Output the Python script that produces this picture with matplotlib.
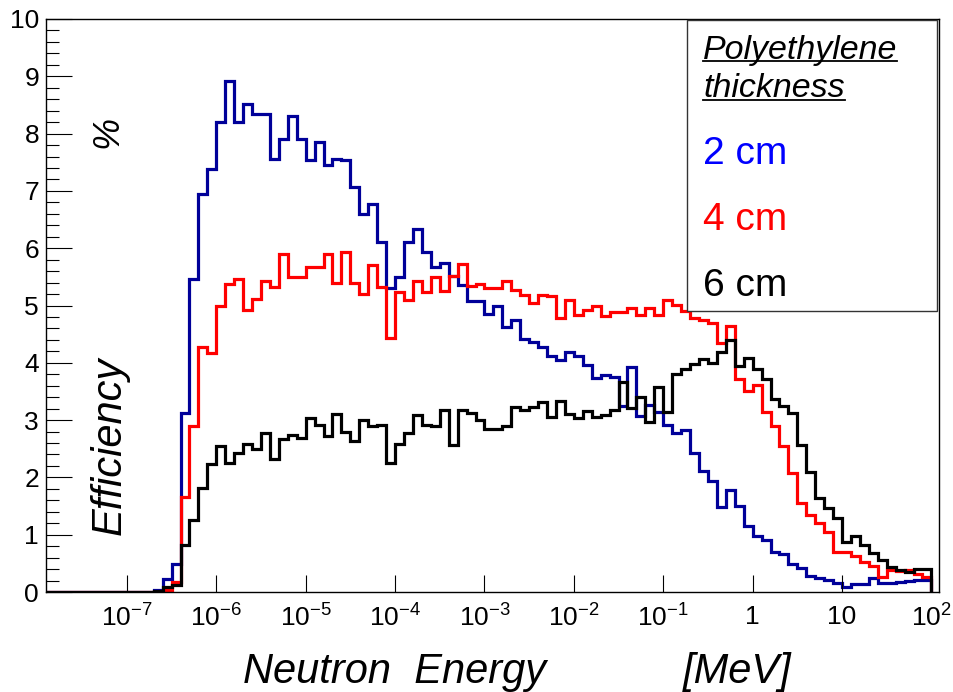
import numpy as np
import matplotlib
matplotlib.use('Agg')
import matplotlib.pyplot as plt
from matplotlib import font_manager
from matplotlib.patches import Rectangle
from matplotlib.lines import Line2D
from matplotlib.ticker import FixedLocator, FixedFormatter, MultipleLocator

# Bins: 10 per decade from 1e-8 to 1e2 MeV
log_lo, log_hi, n_bins = -8, 2, 100

# Efficiency (%) per bin
eff_2cm = [0] * 13 + [
    0.03, 0.22, 0.48, 3.13, 5.47, 6.94, 7.38,
    8.20, 8.91, 8.20, 8.51, 8.34, 8.34, 7.56, 7.90, 8.30, 7.90,
    7.54, 7.85, 7.45, 7.56, 7.54, 7.07, 6.59, 6.77, 6.10, 5.30,
    5.50, 6.11, 6.34, 5.94, 5.67, 5.74, 5.52, 5.35, 5.08, 5.08,
    4.86, 4.99, 4.63, 4.75, 4.42, 4.36, 4.28, 4.11, 4.05, 4.19,
    4.11, 3.97, 3.73, 3.78, 3.75, 3.24, 3.93, 3.08, 3.26, 3.15,
    2.91, 2.77, 2.82, 2.43, 2.11, 1.94, 1.49, 1.78, 1.50, 1.16,
    0.97, 0.91, 0.70, 0.66, 0.48, 0.42, 0.28, 0.25, 0.21, 0.15,
    0.09, 0.14, 0.14, 0.24, 0.15, 0.15, 0.17, 0.20, 0.21, 0.21]

eff_4cm = [0] * 14 + [
    0.03, 0.18, 1.66, 2.90, 4.28, 4.17,
    5.00, 5.38, 5.46, 4.92, 5.12, 5.42, 5.33, 5.90, 5.50, 5.50,
    5.67, 5.67, 5.90, 5.40, 5.94, 5.40, 5.20, 5.71, 5.32, 4.43,
    5.24, 5.10, 5.43, 5.24, 5.50, 5.25, 5.51, 5.72, 5.34, 5.38,
    5.30, 5.30, 5.42, 5.27, 5.18, 5.04, 5.18, 5.16, 4.78, 5.09,
    4.83, 4.92, 4.99, 4.82, 4.89, 4.89, 4.96, 4.83, 4.96, 4.83,
    5.09, 5.01, 4.91, 4.78, 4.74, 4.70, 4.34, 4.64, 3.71, 3.50,
    3.61, 3.15, 2.90, 2.54, 2.08, 1.55, 1.34, 1.20, 1.05, 0.70,
    0.70, 0.62, 0.53, 0.45, 0.27, 0.38, 0.36, 0.38, 0.32, 0.27]

eff_6cm = [0] * 13 + [
    0.02, 0.08, 0.12, 0.82, 1.25, 1.81, 2.23,
    2.54, 2.25, 2.43, 2.58, 2.50, 2.78, 2.32, 2.67, 2.74, 2.68,
    3.04, 2.91, 2.72, 3.10, 2.80, 2.64, 3.00, 2.89, 2.92, 2.26,
    2.58, 2.78, 3.09, 2.91, 2.89, 3.18, 2.57, 3.18, 3.12, 3.01,
    2.84, 2.84, 2.90, 3.22, 3.18, 3.22, 3.31, 3.06, 3.33, 3.10,
    3.03, 3.16, 3.05, 3.09, 3.18, 3.67, 3.21, 3.41, 2.97, 3.58,
    3.15, 3.80, 3.90, 3.98, 4.06, 3.99, 4.19, 4.40, 3.95, 4.09,
    3.89, 3.71, 3.36, 3.25, 3.13, 2.57, 2.10, 1.64, 1.46, 1.29,
    0.88, 0.97, 0.82, 0.68, 0.56, 0.44, 0.38, 0.35, 0.40, 0.41]

series_labels = ['2 cm', '4 cm', '6 cm']
line_colors = ['#000099', '#ff0000', '#000000']
text_colors = ['#0000ff', '#ff0000', '#000000']

x_tick_vals = [1e-7, 1e-6, 1e-5, 1e-4, 1e-3, 1e-2, 1e-1, 1, 10, 100]
x_tick_text = [r'$10^{-7}$', r'$10^{-6}$', r'$10^{-5}$', r'$10^{-4}$', r'$10^{-3}$',
               r'$10^{-2}$', r'$10^{-1}$', '1', '10', r'$10^{2}$']

# fonts
names = {f.name for f in font_manager.fontManager.ttflist}
sans = 'Liberation Sans' if 'Liberation Sans' in names else 'DejaVu Sans'
plt.rcParams['font.family'] = sans
plt.rcParams['mathtext.fontset'] = 'custom'
plt.rcParams['mathtext.rm'] = sans
plt.rcParams['mathtext.it'] = sans + ':italic'

W, H = 954, 692
fig = plt.figure(figsize=(W / 100, H / 100), dpi=100)
ax = fig.add_axes([46 / W, 100 / H, (939 - 46) / W, (592 - 19) / H])

edges = np.logspace(log_lo, log_hi, n_bins + 1)
for vals, col in zip([eff_2cm, eff_4cm, eff_6cm], line_colors):
    ax.stairs(vals, edges, color=col, lw=2.3, baseline=0)

ax.set_xscale('log')
ax.set_xlim(10 ** -7.905, 10 ** 2.085)
ax.set_ylim(0, 10)

ax.xaxis.set_major_locator(FixedLocator(x_tick_vals))
ax.xaxis.set_major_formatter(FixedFormatter(x_tick_text))
ax.yaxis.set_major_locator(MultipleLocator(1))
ax.yaxis.set_minor_locator(MultipleLocator(0.2))

ax.tick_params(which='both', direction='in', top=False, right=False, colors='black')
ax.tick_params(axis='x', which='major', length=12.3, width=0.8, labelsize=19, pad=9)
ax.tick_params(axis='x', which='minor', length=6.2, width=0.8)
ax.tick_params(axis='y', which='major', length=19, width=0.8, labelsize=19, pad=5)
ax.tick_params(axis='y', which='minor', length=9.5, width=0.8)
for s in ax.spines.values():
    s.set_linewidth(1.0)


def fx(px):
    return px / W


def fy(py):
    return 1 - py / H


# axis titles (ROOT style, italic)
fig.text(fx(243), fy(683), 'Neutron  Energy', fontsize=30, style='italic',
         ha='left', va='baseline')
fig.text(fx(683), fy(683), '[MeV]', fontsize=30, style='italic',
         ha='left', va='baseline')
fig.text(fx(110), fy(446), 'Efficiency', fontsize=30, style='italic',
         rotation=90, ha='center', va='center')
fig.text(fx(108), fy(132), '%', fontsize=26, style='italic',
         rotation=90, ha='center', va='center')

# legend box
box = Rectangle((fx(687), fy(311)), (937 - 687) / W, (311 - 20) / H,
                transform=fig.transFigure, facecolor='white', edgecolor='#333333',
                lw=1.0, zorder=5)
fig.add_artist(box)

head1 = fig.text(fx(703), fy(59), 'Polyethylene', fontsize=24.5, style='italic',
                 ha='left', va='baseline', zorder=6)
head2 = fig.text(fx(703), fy(97), 'thickness', fontsize=24.5, style='italic',
                 ha='left', va='baseline', zorder=6)
for lab, col, base in zip(series_labels, text_colors, [164, 230, 296]):
    fig.text(fx(703), fy(base), lab, fontsize=28, color=col,
             ha='left', va='baseline', zorder=6)

# underline the heading
fig.canvas.draw()
r = fig.canvas.get_renderer()
for t, base in [(head1, 61), (head2, 99.5)]:
    bb = t.get_window_extent(renderer=r)
    fig.add_artist(Line2D([bb.x0 / W, bb.x1 / W], [fy(base), fy(base)],
                          transform=fig.transFigure, color='black', lw=1.3, zorder=6))

fig.savefig('out.png', dpi=100)
